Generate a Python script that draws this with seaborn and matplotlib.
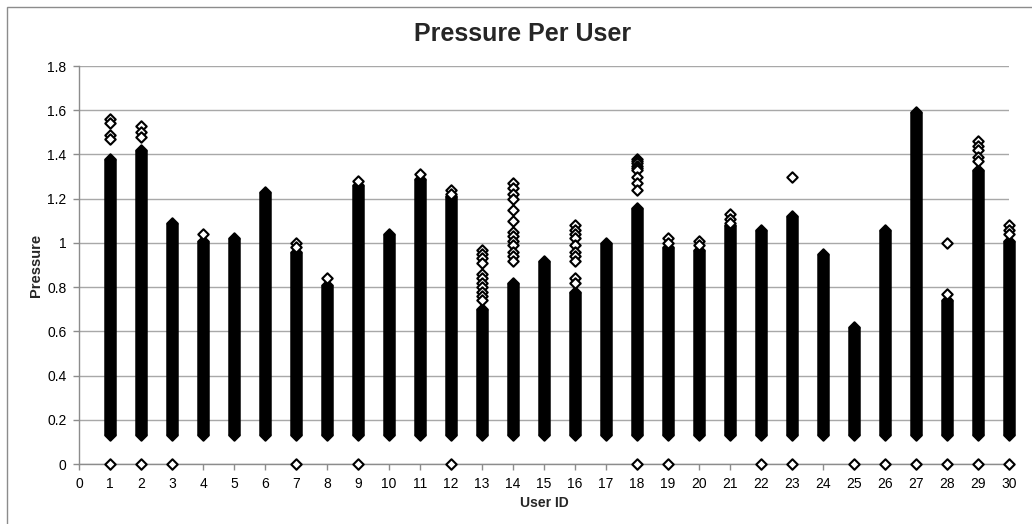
import numpy as np
import pandas as pd
import matplotlib
matplotlib.use("Agg")
import matplotlib.pyplot as plt
import seaborn as sns
from matplotlib.patches import Rectangle
from matplotlib.markers import MarkerStyle

# per-user dense column: bottom and top of the solid run of readings
user_ids = list(range(1, 31))
col_low = [0.13] * 30
col_high = [1.38, 1.42, 1.09, 1.01, 1.02, 1.23, 0.96, 0.81, 1.26, 1.04,
            1.29, 1.21, 0.70, 0.82, 0.92, 0.78, 1.00, 1.16, 0.98, 0.97,
            1.08, 1.06, 1.12, 0.95, 0.62, 1.06, 1.59, 0.74, 1.33, 1.01]

# isolated readings above the dense columns
out_user = [1, 1, 1, 1,
            2, 2, 2,
            4,
            7, 7,
            8,
            9,
            11,
            12, 12,
            13, 13, 13, 13, 13, 13, 13, 13, 13, 13, 13,
            14, 14, 14, 14, 14, 14, 14, 14, 14, 14, 14, 14, 14,
            16, 16, 16, 16, 16, 16, 16, 16, 16, 16,
            18, 18, 18, 18, 18, 18, 18, 18, 18,
            19, 19,
            20, 20,
            21, 21, 21,
            23,
            28, 28,
            29, 29, 29, 29, 29,
            30, 30, 30]
out_value = [1.56, 1.54, 1.49, 1.47,
             1.53, 1.50, 1.48,
             1.04,
             1.00, 0.98,
             0.84,
             1.28,
             1.31,
             1.24, 1.22,
             0.97, 0.95, 0.93, 0.91, 0.86, 0.84, 0.82, 0.80, 0.78, 0.76, 0.74,
             1.27, 1.25, 1.22, 1.20, 1.15, 1.10, 1.05, 1.03, 1.01, 0.99, 0.96, 0.94, 0.92,
             1.08, 1.06, 1.04, 1.02, 0.99, 0.96, 0.94, 0.92, 0.84, 0.82,
             1.38, 1.37, 1.36, 1.35, 1.34, 1.33, 1.30, 1.27, 1.24,
             1.02, 1.00,
             1.01, 0.99,
             1.13, 1.11, 1.09,
             1.30,
             1.00, 0.77,
             1.46, 1.44, 1.42, 1.39, 1.37,
             1.08, 1.06, 1.04]

# users with a zero reading
zero_user = [1, 2, 3, 7, 9, 12, 18, 19, 22, 23, 25, 26, 27, 28, 29, 30]
zero_value = [0.0] * len(zero_user)

y_ticks = [0, 0.2, 0.4, 0.6, 0.8, 1, 1.2, 1.4, 1.6, 1.8]
y_tick_labels = ["0", "0.2", "0.4", "0.6", "0.8", "1", "1.2", "1.4", "1.6", "1.8"]
x_ticks = list(range(0, 31))

sns.set_theme(style="white")
plt.rcParams['font.family'] = ['Liberation Sans', 'DejaVu Sans']

fig = plt.figure(figsize=(10.32, 5.24), dpi=100)
ax = fig.add_axes([79 / 1032, 1 - 464 / 524, 930 / 1032, 398 / 524])

# chart frame
fig.patches.append(Rectangle((7 / 1032, -0.05), 1.2, 1 - 7 / 524 + 0.05,
                             transform=fig.transFigure, fill=False,
                             edgecolor="#8c8c8c", linewidth=1.0))

# size the diamond so that it is ~12 px wide including its edge
lw_edge = 1.5
col_width = 12.5 * 72 / 100
m = MarkerStyle("D")
ext = m.get_path().transformed(m.get_transform()).get_extents()
ms = (col_width - lw_edge) / ext.width

cols = pd.DataFrame({"user": user_ids, "low": col_low, "high": col_high})
ax.vlines(cols["user"], cols["low"], cols["high"], colors="black",
          linewidth=col_width, zorder=3, clip_on=False)
ends = pd.concat([cols[["user", "low"]].rename(columns={"low": "p"}),
                  cols[["user", "high"]].rename(columns={"high": "p"})])
sns.scatterplot(data=ends, x="user", y="p", marker="D", s=ms ** 2,
                color="black", edgecolor="black", linewidth=lw_edge,
                ax=ax, zorder=4, clip_on=False)

outs = pd.DataFrame({"user": out_user, "p": out_value})
sns.scatterplot(data=outs, x="user", y="p", marker="D", s=ms ** 2,
                facecolor="white", edgecolor="black", linewidth=lw_edge,
                ax=ax, zorder=5, clip_on=False)

zeros = pd.DataFrame({"user": zero_user, "p": zero_value})
sns.scatterplot(data=zeros, x="user", y="p", marker="D", s=ms ** 2,
                facecolor="white", edgecolor="black", linewidth=lw_edge,
                ax=ax, zorder=5, clip_on=False)

ax.set_xlim(0, 30)
ax.set_ylim(0, 1.8)
ax.set_xticks(x_ticks)
ax.set_xticklabels([str(t) for t in x_ticks])
ax.set_yticks(y_ticks)
ax.set_yticklabels(y_tick_labels)
ax.grid(axis="y", color="#a8a8a8", linewidth=1.0)
ax.set_axisbelow(True)
for side in ["top", "right"]:
    ax.spines[side].set_visible(False)
for side in ["left", "bottom"]:
    ax.spines[side].set_color("#8c8c8c")
    ax.spines[side].set_linewidth(1.0)
ax.tick_params(axis="both", direction="out", length=4, width=1.0,
               color="#8c8c8c", labelsize=10, labelcolor="black",
               bottom=True, left=True, pad=5)

ax.set_xlabel("User ID", fontsize=10, fontweight="bold", labelpad=4)
ax.set_ylabel("Pressure", fontsize=10.5, fontweight="bold", labelpad=3)
fig.text(523 / 1032, 1 - 34 / 524, "Pressure Per User", fontsize=18,
         fontweight="bold", ha="center", va="center")

fig.savefig("out.png", dpi=100)
